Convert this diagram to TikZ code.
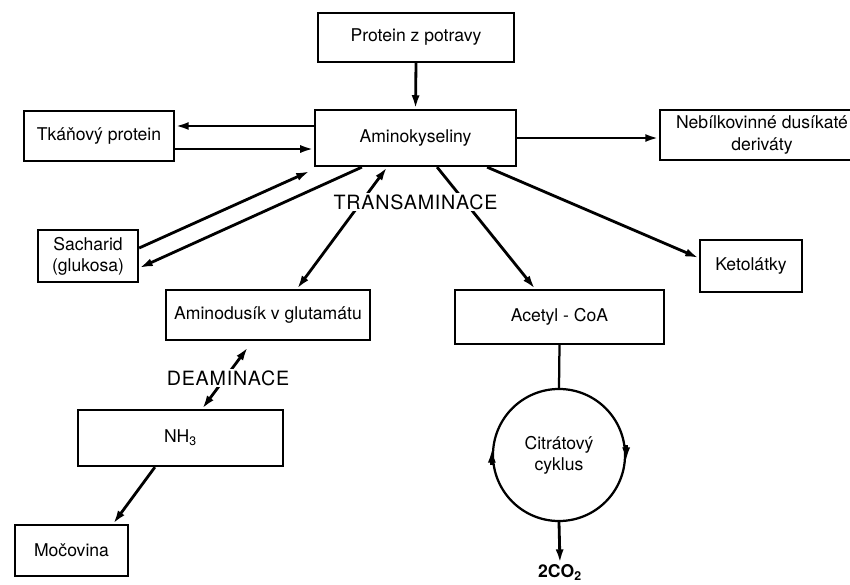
\documentclass[tikz,border=0pt]{standalone}
\usepackage{fontspec}
\setmainfont{TeX Gyre Heros}
\newfontfamily\capsfont[LetterSpace=4]{TeX Gyre Heros}
\usetikzlibrary{arrows.meta}
\tikzset{
    box/.style={draw, line width=1.6pt, align=center, inner sep=2pt,
      font=\fontsize{12.5}{15}\selectfont},
    cycle/.style={draw, circle, line width=1.6pt, align=center,
      minimum size=3.3cm, font=\fontsize{12.5}{15}\selectfont},
    arr/.style={line width=2pt, -{Latex[length=3.4mm,width=2mm]}},
    darr/.style={line width=2pt,
      {Latex[length=3.4mm,width=2mm]}-{Latex[length=3.4mm,width=2mm]}},
    caps/.style={fill=white, inner sep=1pt,
      font=\capsfont\fontsize{14}{16}\selectfont}
}

\begin{document}
\begin{tikzpicture}[x=0.025cm, y=-0.025cm]
  \useasboundingbox (0,0) rectangle (850,585);
  \node [box, minimum width=4.9cm, minimum height=1.225cm] (potrava) at (416,37.5) {Protein z potravy};
  \node [box, minimum width=5.025cm, minimum height=1.4cm] (amino) at (415.5,138) {Aminokyseliny};
  \node [box, minimum width=3.75cm, minimum height=1.25cm] (tkan) at (99,136) {Tkáňový protein};
  \node [box, minimum width=5.1cm, minimum height=1.25cm] (nebil) at (762,135) {Nebílkovinné dusíkaté\\deriváty};
  \node [box, minimum width=2.5cm, minimum height=1.3cm] (sach) at (88,256) {Sacharid\\(glukosa)};
  \node [box, minimum width=2.55cm, minimum height=1.3cm] (keto) at (751,266) {Ketolátky};
  \node [box, minimum width=5.1cm, minimum height=1.25cm] (glut) at (268,315) {Aminodusík v glutamátu};
  \node [box, minimum width=5.225cm, minimum height=1.35cm] (acetyl) at (559.5,317) {Acetyl - CoA};
  \node [box, minimum width=5.125cm, minimum height=1.4cm] (nh) at (180.5,438) {NH\textsubscript{3}};
  \node [box, minimum width=2.825cm, minimum height=1.275cm] (mocov) at (71.5,550.5) {Močovina};
  \node [cycle] (cyklus) at (559,455) {Citrátový\\cyklus};
  \node [anchor=north, inner sep=1pt, font=\bfseries\fontsize{12.5}{15}\selectfont] (co) at (560,563) {2CO\textsubscript{2}};

  \draw [arr] (potrava.south) -- (amino.north);
  \draw [arr] ([yshift=0.3cm]amino.west) -- ([yshift=0.3cm]amino.west -| tkan.east);
  \draw [arr] ([yshift=-0.275cm]amino.west -| tkan.east) -- ([yshift=-0.275cm]amino.west);
  \draw [arr] (amino.east) -- (amino.east -| nebil.west);
  \draw [arr] ([yshift=0.2cm]sach.east) -- ([xshift=-0.1cm,yshift=-0.1cm]amino.south west);
  \draw [arr] ([xshift=-1.34cm]amino.south) -- ([yshift=-0.3cm]sach.east);
  \draw [darr] ([xshift=-0.71cm]amino.south) -- ([xshift=0.725cm]glut.north);
  \draw [arr] ([xshift=0.54cm]amino.south) -- ([xshift=-0.61cm]acetyl.north);
  \draw [arr] ([xshift=1.79cm]amino.south) -- ([yshift=0.2cm]keto.west);
  \draw [darr] ([xshift=-0.5cm,yshift=-0.15cm]glut.south) -- ([xshift=0.54cm]nh.north);
  \draw [arr] ([xshift=-0.64cm]nh.south) -- ([xshift=1.04cm]mocov.north);
  \draw [line width=1.6pt] (acetyl.south) -- (cyklus.north);
  \draw [arr] ([yshift=-0.25cm]cyklus.west) -- ([yshift=0.15cm]cyklus.west);
  \draw [arr] ([yshift=0.25cm]cyklus.east) -- ([yshift=-0.15cm]cyklus.east);
  \draw [arr] (cyklus.south) -- (co.north);

  \node [caps] (trans) at (415.5,202) {TRANSAMINACE};
  \node [caps] (deam) at (228,378) {DEAMINACE};
\end{tikzpicture}
\end{document}
